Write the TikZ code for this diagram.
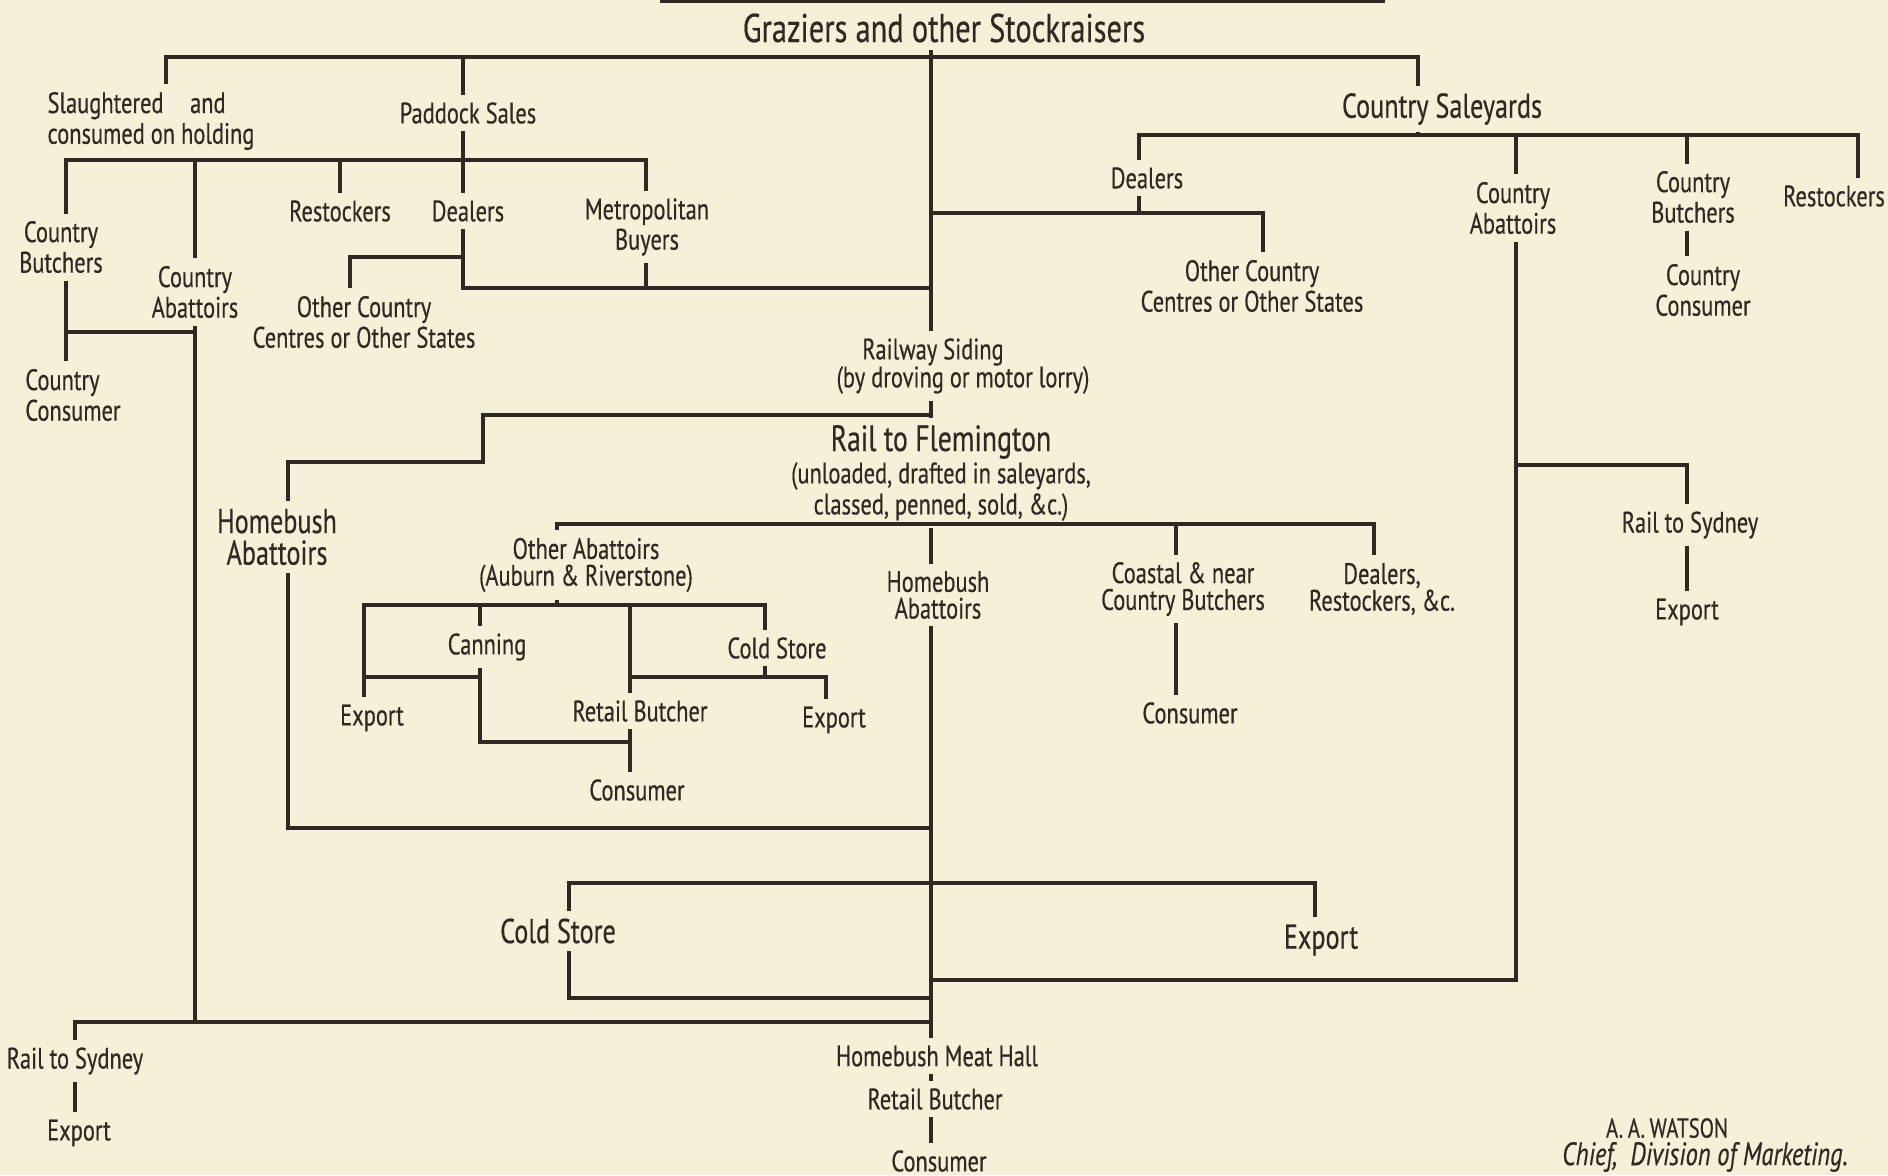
\documentclass[tikz,border=0pt]{standalone}
\usepackage{fontspec}
\setmainfont{PT Sans}[FakeStretch=0.76, FakeBold=0.4]
\usepackage{tikz}

\definecolor{paper}{RGB}{246,240,216}
\definecolor{ink}{RGB}{48,40,34}
\newcommand{\lblfont}{\fontsize{8.4}{7.6}\selectfont}
\newcommand{\bigfont}{\fontsize{9.8}{9}\selectfont}
\newcommand{\topfont}{\fontsize{11.4}{11}\selectfont}

\begin{document}
\begin{tikzpicture}[x=0.01cm, y=-0.01cm, line width=1.3pt, color=ink]
  \tikzstyle{every node}=[inner sep=1.5pt, font=\lblfont, align=center]
  \tikzstyle{big}=[font=\bigfont]

  \fill[paper] (0,0) rectangle (1888,1175);
  \useasboundingbox (0,0) rectangle (1888,1175);
  \draw (660,1) -- (1385,1);

  \node[font=\topfont] (G) at (944,28) {Graziers and other Stockraisers};
  \node[align=left] (SH) at (151,121) {Slaughtered\hspace{0.9em}and\\consumed on holding};
  \node (PS) at (468,113) {Paddock Sales};
  \node[big] (CS) at (1442,109) {Country Saleyards};
  \node (CB1) at (61,247) {Country\\Butchers};
  \node (CA1) at (195,292) {Country\\Abattoirs};
  \node (RS1) at (340,211) {Restockers};
  \node (D1) at (468,211) {Dealers};
  \node (MB) at (647,227) {Metropolitan\\Buyers};
  \node (OC1) at (364,322) {Other Country\\Centres or Other States};
  \node[align=left] (CC1) at (73,395) {Country\\Consumer};
  \node (D2) at (1147,178) {Dealers};
  \node (OC2) at (1252,286) {Other Country\\Centres or Other States};
  \node (CA2) at (1513,208) {Country\\Abattoirs};
  \node (CB2) at (1693,197) {Country\\Butchers};
  \node (CC2) at (1703,290) {Country\\Consumer};
  \node (RS2) at (1834,196) {Restockers};
  \node (RW) at (933,352) {Railway Siding};
  \node (RWb) at (963,380) {(by droving or motor lorry)};
  \node (FL) at (941,473) {{\fontsize{10.4}{9}\selectfont Rail to Flemington}\\(unloaded, drafted in saleyards,\\classed, penned, sold, \&c.)};
  \node[big] (HA1) at (277,537) {Homebush\\Abattoirs};
  \node (OA) at (586,565) {Other Abattoirs\\(Auburn \& Riverstone)};
  \node (CN) at (487,647) {Canning};
  \node (CST1) at (777,648) {Cold Store};
  \node (EX1) at (372,718) {Export};
  \node (RB1) at (640,711) {Retail Butcher};
  \node (EX2) at (834,720) {Export};
  \node (CO1) at (637,790) {Consumer};
  \node (HA2) at (938,595) {Homebush\\Abattoirs};
  \node (CNB) at (1183,589) {Coastal \& near\\Country Butchers};
  \node (CO2) at (1190,713) {Consumer};
  \node (DR) at (1382,589) {Dealers,\\Restockers, \&c.};
  \node (RSY1) at (1690,525) {Rail to Sydney};
  \node (EX3) at (1687,612) {Export};
  \node[big] (CST2) at (558,931) {Cold Store};
  \node[big] (EX4) at (1321,940) {Export};
  \node (RSY2) at (75,1061) {Rail to Sydney};
  \node (EX5) at (79,1133) {Export};
  \node (HMH) at (937,1056) {Homebush Meat Hall};
  \node (RB2) at (935,1099) {Retail Butcher};
  \node (CO3) at (939,1161) {Consumer};
  \node[font=\fontsize{7.8}{7}\selectfont] (W) at (1667,1128) {A.\,A.\,WATSON};
  \node[font=\fontsize{9.2}{9}\selectfont\itshape] (WC) at (1705,1157) {Chief,\ \ Division of Marketing.};

  \coordinate (tk) at (931,0);
  \coordinate (a1) at (166,57);
  \coordinate (a2) at (1418,57);
  \coordinate (a3) at (463,57);
  \coordinate (a4) at (463,288);
  \coordinate (a5) at (350,257);
  \coordinate (b1) at (66,160);
  \coordinate (b2) at (646,160);
  \coordinate (b3) at (66,332);
  \coordinate (c1) at (75,1022);
  \coordinate (d1) at (1139,135);
  \coordinate (d2) at (1858,135);
  \coordinate (d3) at (1516,135);
  \coordinate (d4) at (1687,135);
  \coordinate (d5) at (1263,213);
  \coordinate (d6) at (1516,980);
  \coordinate (d7) at (1687,465);
  \coordinate (e1) at (483,415);
  \coordinate (e2) at (288,462);
  \coordinate (e3) at (288,828);
  \coordinate (f1) at (557,524);
  \coordinate (f2) at (1374,524);
  \coordinate (f3) at (1176,524);
  \coordinate (g1) at (364,605);
  \coordinate (g2) at (765,605);
  \coordinate (g3) at (480,605);
  \coordinate (g4) at (630,605);
  \coordinate (g5) at (480,677);
  \coordinate (g6) at (826,677);
  \coordinate (g7) at (480,742);
  \coordinate (h1) at (569,883);
  \coordinate (h2) at (1315,883);
  \coordinate (h3) at (569,998);

  \draw (G.south -| tk) -- (RW.north -| tk);
  \draw (a1 |- SH.north) -- (a1) -- (a2) -- (a2 |- CS.north);
  \draw (a3) -- (a3 |- PS.north);
  \draw (a3 |- PS.south) -- (a3 |- D1.north);
  \draw (a3 |- D1.south) -- (a4) -- (tk |- a4);
  \draw (a3 |- a5) -- (a5) -- (a5 |- OC1.north);
  \draw (b2 |- MB.south) -- (b2 |- a4);
  \draw (b1 |- CB1.north) -- (b1) -- (b2) -- (b2 |- MB.north);
  \draw (CA1.north) -- (CA1.north |- b1);
  \draw (RS1.north) -- (RS1.north |- b1);
  \draw (b1 |- CB1.south) -- (b1 |- CC1.north);
  \draw (b3) -- (CA1.south |- b3);
  \draw (CA1.south) -- (CA1.south |- c1);
  \draw (c1 |- RSY2.north) -- (c1) -- (tk |- c1);
  \draw (c1 |- RSY2.south) -- (c1 |- EX5.north);

  \draw (a2 |- CS.south) -- (a2 |- d1);
  \draw (d1 |- D2.north) -- (d1) -- (d2) -- (d2 |- RS2.north);
  \draw (d3) -- (d3 |- CA2.north);
  \draw (d4) -- (d4 |- CB2.north);
  \draw (d4 |- CB2.south) -- (d4 |- CC2.north);
  \draw (d1 |- D2.south) -- (d1 |- d5);
  \draw (tk |- d5) -- (d5) -- (d5 |- OC2.north);
  \draw (d3 |- CA2.south) -- (d6) -- (tk |- d6);
  \draw (d3 |- d7) -- (d7) -- (d7 |- RSY1.north);
  \draw (d7 |- RSY1.south) -- (d7 |- EX3.north);

  \draw (RWb.south -| tk) -- (FL.north -| tk);
  \draw (tk |- e1) -- (e1) -- (e1 |- e2) -- (e2) -- (e2 |- HA1.north);
  \draw (e2 |- HA1.south) -- (e3) -- (tk |- e3);

  \draw (f1 |- OA.north) -- (f1) -- (f2) -- (f2 |- DR.north);
  \draw (f3) -- (f3 |- CNB.north);
  \draw (f3 |- CNB.south) -- (f3 |- CO2.north);
  \draw (FL.south -| tk) -- (HA2.north -| tk);
  \draw (HA2.south -| tk) -- (HMH.north -| tk);
  \draw (HMH.south -| tk) -- (RB2.north -| tk);
  \draw (RB2.south -| tk) -- (CO3.north -| tk);

  \draw (f1 |- OA.south) -- (f1 |- g1);
  \draw (g1 |- EX1.north) -- (g1) -- (g2) -- (g2 |- CST1.north);
  \draw (g3) -- (g3 |- CN.north);
  \draw (g4) -- (g4 |- RB1.north);
  \draw (g4 |- RB1.south) -- (g4 |- CO1.north);
  \draw (g3 |- CN.south) -- (g7) -- (g4 |- g7);
  \draw (g1 |- g5) -- (g5);
  \draw (g4 |- g6) -- (g6) -- (g6 |- EX2.north);
  \draw (g2 |- CST1.south) -- (g2 |- g6);

  \draw (h2 |- EX4.north) -- (h2) -- (h1) -- (h1 |- CST2.north);
  \draw (h1 |- CST2.south) -- (h3) -- (tk |- h3);
\end{tikzpicture}
\end{document}
